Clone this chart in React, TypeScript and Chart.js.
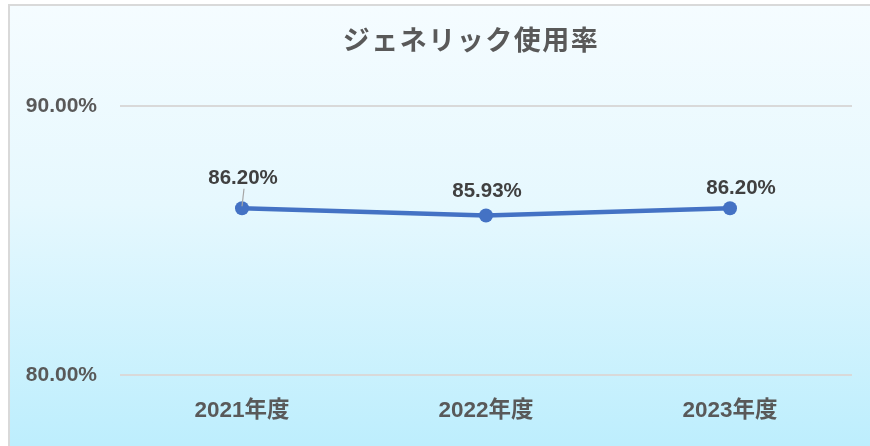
import React, { useEffect, useRef } from "react";
import { Chart, registerables } from "chart.js";

Chart.register(...registerables);

const TITLE = "ジェネリック使用率";
const categories = ["2021年度", "2022年度", "2023年度"];
const usageRate = [86.2, 85.93, 86.2];
const yTicks = [80, 90];
const Y_MIN = 80;
const Y_MAX = 90;

// label placement offsets (style only, relative to each point)
const labelDx = [1, 1, 11];
const labelDy = [-29.5, -24, -20];
const leaderLine = [true, false, false];

const FONT_LATIN = "'Liberation Sans', 'Noto Sans CJK JP', sans-serif";
const FONT_CJK = "'Noto Sans CJK JP', 'Liberation Sans', sans-serif";

export default function App() {
  const ref = useRef<HTMLCanvasElement | null>(null);

  useEffect(() => {
    if (!ref.current) return;

    const titlePlugin = {
      id: "customTitle",
      afterDraw(chart: any) {
        const ctx = chart.ctx;
        ctx.save();
        ctx.font = `bold 27px ${FONT_CJK}`;
        ctx.fillStyle = "#595959";
        ctx.textAlign = "center";
        ctx.textBaseline = "middle";
        if ("letterSpacing" in ctx) (ctx as any).letterSpacing = "1.5px";
        ctx.fillText(TITLE, 461, 34);
        ctx.restore();
      },
    };

    const labelPlugin = {
      id: "pointLabels",
      afterDatasetsDraw(chart: any) {
        const ctx = chart.ctx;
        const meta = chart.getDatasetMeta(0);
        ctx.save();
        meta.data.forEach((pt: any, i: number) => {
          const x = pt.x + labelDx[i];
          const y = pt.y + labelDy[i];
          if (leaderLine[i]) {
            ctx.strokeStyle = "#a6a6a6";
            ctx.lineWidth = 1.2;
            ctx.beginPath();
            ctx.moveTo(x + 1, y + 10);
            ctx.lineTo(pt.x, pt.y - 2);
            ctx.stroke();
          }
          ctx.font = `bold 20.5px ${FONT_LATIN}`;
          ctx.fillStyle = "#404040";
          ctx.textAlign = "center";
          ctx.textBaseline = "middle";
          ctx.fillText(usageRate[i].toFixed(2) + "%", x, y);
        });
        ctx.restore();
      },
    };

    const chart = new Chart(ref.current, {
      type: "line",
      data: {
        labels: categories,
        datasets: [
          {
            data: usageRate,
            borderColor: "#4472c4",
            backgroundColor: "#4472c4",
            borderWidth: 4.5,
            pointRadius: 7,
            pointBackgroundColor: "#4472c4",
            pointBorderColor: "#4472c4",
            pointBorderWidth: 0,
            tension: 0,
          },
        ],
      },
      options: {
        responsive: false,
        animation: false,
        layout: { padding: { top: 100, right: 18, left: 0, bottom: 0 } },
        plugins: {
          legend: { display: false },
          title: { display: false },
          tooltip: { enabled: false },
        },
        scales: {
          x: {
            type: "category",
            offset: true,
            grid: { display: false, drawTicks: false },
            border: { display: false },
            ticks: {
              color: "#595959",
              padding: 22.5,
              font: { family: FONT_LATIN, size: 22.5, weight: "bold" },
            },
            afterFit(scale: any) {
              scale.height = 71;
            },
          },
          y: {
            min: Y_MIN,
            max: Y_MAX,
            afterBuildTicks(scale: any) {
              scale.ticks = yTicks.map((v) => ({ value: v }));
            },
            grid: { color: "#d9d9d9", lineWidth: 2, drawTicks: false },
            border: { display: false },
            ticks: {
              color: "#595959",
              padding: 23,
              font: { family: FONT_LATIN, size: 21, weight: "bold" },
              callback: (v: any) => Number(v).toFixed(2) + "%",
            },
            afterFit(scale: any) {
              scale.width = 110;
            },
          },
        },
      },
      plugins: [titlePlugin, labelPlugin],
    } as any);

    return () => chart.destroy();
  }, []);

  return (
    <div
      style={{
        position: "absolute",
        left: 8,
        top: 4,
        width: 862,
        height: 442,
        boxSizing: "border-box",
        borderTop: "2px solid #d9d9d9",
        borderLeft: "2px solid #d9d9d9",
        background: "linear-gradient(to bottom, #f5fcff 0%, #e6f8fe 45%, #bdeefd 100%)",
        overflow: "hidden",
      }}
    >
      <canvas ref={ref} width={860} height={440} style={{ display: "block" }} />
    </div>
  );
}
